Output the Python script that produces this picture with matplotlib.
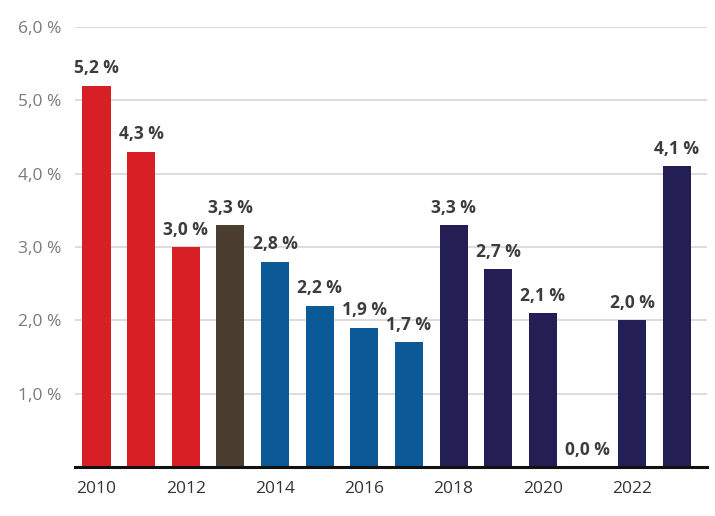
import matplotlib
matplotlib.use("Agg")
import matplotlib.pyplot as plt

years = [2010, 2011, 2012, 2013, 2014, 2015, 2016, 2017, 2018, 2019, 2020, 2021, 2022, 2023]
values = [5.2, 4.3, 3.0, 3.3, 2.8, 2.2, 1.9, 1.7, 3.3, 2.7, 2.1, 0.0, 2.0, 4.1]
colors = ["#d91f26", "#d91f26", "#d91f26", "#4b3e31",
          "#0b5a97", "#0b5a97", "#0b5a97", "#0b5a97",
          "#231f54", "#231f54", "#231f54", "#231f54", "#231f54", "#231f54"]
yticks = [1, 2, 3, 4, 5, 6]
xtick_years = [2010, 2012, 2014, 2016, 2018, 2020, 2022]

plt.rcParams['font.family'] = ['Open Sans', 'DejaVu Sans']

fig = plt.figure(figsize=(7.15, 5.16), dpi=100)
ax = fig.add_axes([0.105, 0.095, 0.884, 0.853])

ax.bar(years, values, width=0.63, color=colors, zorder=3)
for x, v in zip(years, values):
    lbl = f"{v:.1f}".replace(".", ",") + " %"
    ax.annotate(lbl, (x, v), xytext=(0, 6), textcoords="offset points",
                ha="center", va="bottom", fontsize=12.5, fontweight="bold",
                color="#3c3c3c", zorder=4)

ax.set_ylim(0, 6)
ax.set_xlim(2010 - 0.48, 2023 + 0.68)
ax.set_yticks(yticks)
ax.set_yticklabels([f"{t:.1f}".replace(".", ",") + " %" for t in yticks])
ax.set_xticks(xtick_years)
ax.set_xticklabels([str(y) for y in xtick_years])
ax.tick_params(axis="y", length=0, pad=10, labelsize=12.5, labelcolor="#7a7a7a")
ax.tick_params(axis="x", length=0, pad=10, labelsize=12.5, labelcolor="#333333")
ax.grid(axis="y", color="#d6d6d6", linewidth=1.2, zorder=0)
for s in ["top", "right", "left"]:
    ax.spines[s].set_visible(False)
ax.spines["bottom"].set_linewidth(2.2)
ax.spines["bottom"].set_color("#111111")
ax.spines["bottom"].set_zorder(5)

fig.savefig("out.png", dpi=100)
